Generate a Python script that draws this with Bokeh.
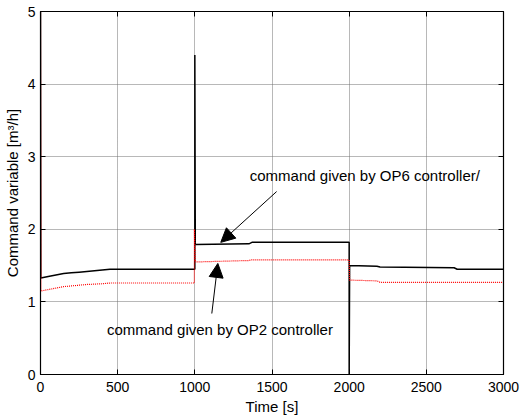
from bokeh.plotting import figure
from bokeh.models import Range1d, LinearAxis, Label, Arrow, NormalHead, FixedTicker, Title
from bokeh.embed import file_html
from bokeh.resources import INLINE

# OP6 controller command (black)
t_op6 = [0, 2, 50, 100, 150, 200, 250, 300, 350, 400, 450, 1000, 1000, 1003, 1350, 1370, 2000, 2000, 2003, 2180, 2200, 2680, 2700, 3000]
u_op6 = [5.0, 1.33, 1.35, 1.37, 1.39, 1.40, 1.41, 1.42, 1.43, 1.44, 1.45, 1.45, 4.40, 1.79, 1.80, 1.82, 1.82, 0.0, 1.50, 1.49, 1.48, 1.47, 1.45, 1.45]

# OP2 controller command (red)
t_op2 = [0, 3, 50, 100, 150, 200, 250, 300, 400, 450, 997, 997, 1003, 1350, 1370, 2000, 2003, 2180, 2200, 3000]
u_op2 = [5.0, 1.15, 1.17, 1.19, 1.21, 1.22, 1.23, 1.24, 1.25, 1.26, 1.26, 2.00, 1.55, 1.57, 1.58, 1.58, 1.30, 1.29, 1.27, 1.27]

x_ticks = [0, 500, 1000, 1500, 2000, 2500, 3000]
y_ticks = [0, 1, 2, 3, 4, 5]

FONT = "Liberation Sans"

p = figure(width=524, height=419, output_backend="svg", toolbar_location=None,
           x_range=Range1d(0, 3000), y_range=Range1d(0, 5),
           min_border_left=39, min_border_right=21, min_border_top=11, min_border_bottom=45)
p.background_fill_color = "white"
p.border_fill_color = "white"
p.outline_line_color = "black"
p.outline_line_width = 1.2

for ax in (p.xaxis[0], p.yaxis[0]):
    ax.major_label_text_font = FONT
    ax.major_label_text_font_size = "14px"
    ax.major_label_text_color = "black"
    ax.major_tick_in = 5
    ax.major_tick_out = 0
    ax.minor_tick_line_color = None
    ax.axis_line_color = "black"
    ax.major_tick_line_color = "black"
p.xaxis.ticker = FixedTicker(ticks=x_ticks)
p.yaxis.ticker = FixedTicker(ticks=y_ticks)
p.xaxis.major_label_standoff = 7
p.yaxis.major_label_standoff = 5

p.yaxis.axis_label = "Command variable [m³/h]"
p.yaxis.axis_label_text_font = FONT
p.yaxis.axis_label_text_font_size = "15px"
p.yaxis.axis_label_text_font_style = "normal"
p.yaxis.axis_label_text_color = "black"
p.yaxis.axis_label_standoff = 4

for loc in ("right", "above"):
    tk = x_ticks if loc == "above" else y_ticks
    ax = LinearAxis(ticker=FixedTicker(ticks=tk),
                    major_label_overrides={t: "" for t in tk},
                    major_tick_in=5, major_tick_out=0,
                    minor_tick_line_color=None, major_label_standoff=0,
                    axis_line_color="black", major_tick_line_color="black")
    p.add_layout(ax, loc)

p.xgrid.ticker = FixedTicker(ticks=x_ticks)
p.ygrid.ticker = FixedTicker(ticks=y_ticks)
for g in (p.xgrid[0], p.ygrid[0]):
    g.grid_line_color = "#707070"
    g.grid_line_dash = "1 1"
    g.grid_line_width = 1

p.line(t_op6, u_op6, line_color="black", line_width=1.5)
p.line(t_op2, u_op2, line_color="red", line_width=1.2, line_dash="1 1")

p.add_layout(Title(text="Time [s]", align="center", offset=-22, text_font=FONT,
                   text_font_size="15px", text_font_style="normal", text_color="black",
                   standoff=2), "below")

p.add_layout(Label(x=1356, y=2.74, text="command given by OP6 controller/", text_font=FONT,
                   text_font_size="15px", text_align="left", text_baseline="middle",
                   text_color="black"))
p.add_layout(Label(x=431, y=0.62, text="command given by OP2 controller", text_font=FONT,
                   text_font_size="15px", text_align="left", text_baseline="middle",
                   text_color="black"))

p.add_layout(Arrow(x_start=1530, y_start=2.52, x_end=1168, y_end=1.82, line_width=1,
                   end=NormalHead(size=14, fill_color="black", line_color="black")))
p.add_layout(Arrow(x_start=1110, y_start=0.84, x_end=1149, y_end=1.53, line_width=1,
                   end=NormalHead(size=14, fill_color="black", line_color="black")))

open("out.html", "w").write(file_html(p, INLINE))
